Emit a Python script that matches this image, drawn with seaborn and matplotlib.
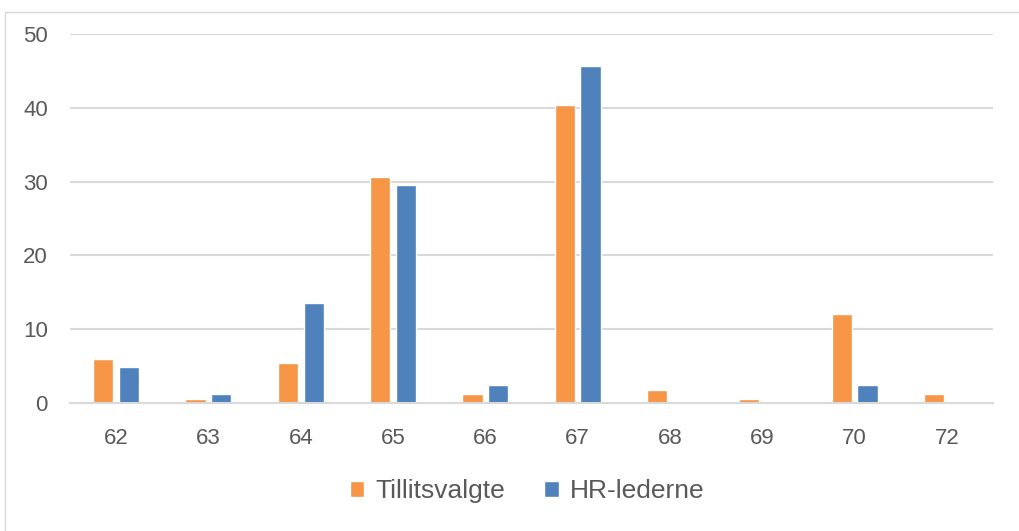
import pandas as pd
import seaborn as sns
import matplotlib.pyplot as plt
from matplotlib.patches import Rectangle

# Alder (kategorier) og andel i prosent
alder = ["62", "63", "64", "65", "66", "67", "68", "69", "70", "72"]
tillitsvalgte = [5.9, 0.5, 5.4, 30.6, 1.2, 40.4, 1.7, 0.5, 12.1, 1.2]
hr_lederne = [4.9, 1.2, 13.6, 29.6, 2.4, 45.7, 0, 0, 2.4, 0]
serier = ["Tillitsvalgte", "HR-lederne"]
farger = ["#F79646", "#4F81BD"]
y_ticks = [0, 10, 20, 30, 40, 50]

df = pd.DataFrame({
    "alder": alder * 2,
    "andel": tillitsvalgte + hr_lederne,
    "gruppe": [serier[0]] * len(alder) + [serier[1]] * len(alder),
})

sns.set_style("white")
plt.rcParams["font.family"] = ["Liberation Sans", "DejaVu Sans"]
tekstfarge = "#595959"
gridfarge = "#d9d9d9"

fig = plt.figure(figsize=(10.19, 5.31), dpi=100)
ax = fig.add_axes([70 / 1019, 1 - 403 / 531, 923 / 1019, 369 / 531])

sns.barplot(data=df, x="alder", y="andel", hue="gruppe", order=alder,
            hue_order=serier, palette=farger, width=0.56, gap=0.22,
            saturation=1, ax=ax)

ax.set_ylim(0, 50)
ax.set_yticks(y_ticks)
ax.set_xlim(-0.5, len(alder) - 0.5)
ax.grid(axis="y", color=gridfarge, linewidth=1.5)
ax.set_axisbelow(True)
for side in ["left", "right", "top"]:
    ax.spines[side].set_visible(False)
ax.spines["bottom"].set_color(gridfarge)
ax.spines["bottom"].set_linewidth(1.5)
ax.tick_params(axis="both", length=0, labelsize=16, colors=tekstfarge)
ax.tick_params(axis="y", pad=16)
ax.tick_params(axis="x", pad=18)
ax.set_xlabel("")
ax.set_ylabel("")

leg = ax.legend(loc="center", bbox_to_anchor=(527 / 1019, 1 - 491 / 531),
                bbox_transform=fig.transFigure, ncol=2, frameon=False,
                fontsize=19, handlelength=0.55, handleheight=0.55,
                handletextpad=0.4, columnspacing=1.5)
for t in leg.get_texts():
    t.set_color(tekstfarge)

# ramme rundt diagrammet
fig.patches.append(Rectangle((5 / 1019, -0.1), 1.2, 1 - 12 / 531 + 0.1,
                             transform=fig.transFigure, fill=False,
                             edgecolor="#d9d9d9", linewidth=1))

fig.savefig("out.png", dpi=100)
